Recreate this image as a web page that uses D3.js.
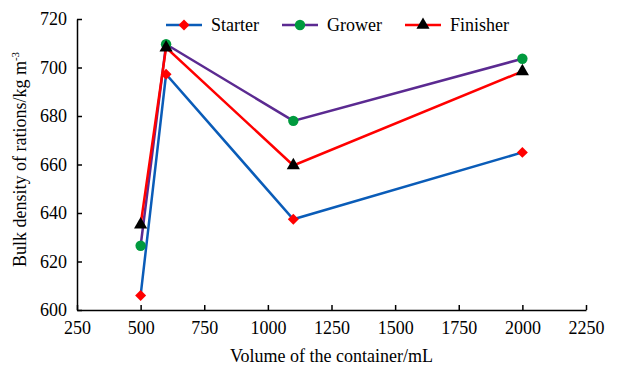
<!DOCTYPE html>
<html>
<head>
<meta charset="utf-8">
<script src="https://cdn.jsdelivr.net/npm/d3@7"></script>
<style>
  body { margin: 0; background: #fff; }
</style>
</head>
<body>
<svg id="chart" width="624" height="370"></svg>
<script>
const volumes = [500, 600, 1100, 2000];
const starter = [606, 697.2, 637.4, 665];
const grower = [626.5, 709.6, 678, 703.6];
const finisher = [635.2, 708.2, 659.6, 698.4];
const xTicks = [250, 500, 750, 1000, 1250, 1500, 1750, 2000, 2250];
const yTicks = [600, 620, 640, 660, 680, 700, 720];

const series = [
  {name: "Starter", values: starter, line: "#0a5cb8", fill: "#ff0000", shape: "diamond"},
  {name: "Grower", values: grower, line: "#5b2a91", fill: "#009a3e", shape: "circle"},
  {name: "Finisher", values: finisher, line: "#ff0000", fill: "#000000", shape: "triangle"}
];

const FONT = "Liberation Serif";
const margin = {left: 77, right: 38, top: 19, bottom: 60};
const W = 624, H = 370;

const svg = d3.select("#chart");
const x = d3.scaleLinear().domain([250, 2250]).range([margin.left, W - margin.right]);
const y = d3.scaleLinear().domain([600, 720]).range([H - margin.bottom, margin.top]);

// axes, ticks point inward
const xAxis = svg.append("g")
  .attr("transform", `translate(0,${y(600)})`)
  .call(d3.axisBottom(x).tickValues(xTicks).tickFormat(d3.format("d"))
    .tickSizeInner(-5).tickSizeOuter(0).tickPadding(11));
const yAxis = svg.append("g")
  .attr("transform", `translate(${x(250)},0)`)
  .call(d3.axisLeft(y).tickValues(yTicks).tickFormat(d3.format("d"))
    .tickSizeInner(-5).tickSizeOuter(0).tickPadding(10));

[xAxis, yAxis].forEach(g => {
  g.select(".domain").attr("stroke", "#000").attr("stroke-width", 1.5);
  g.selectAll(".tick line").attr("stroke", "#000").attr("stroke-width", 1.5);
  g.selectAll(".tick text").attr("fill", "#000")
    .style("font-family", FONT).style("font-size", "18px");
});

const line = d3.line().x((d, i) => x(volumes[i])).y(d => y(d));

const symbolFor = (shape) => {
  switch (shape) {
    case "diamond":
      return d3.symbol().type(d3.symbolSquare).size(60)();
    case "circle":
      return d3.symbol().type(d3.symbolCircle).size(85)();
    default:
      return d3.symbol().type(d3.symbolTriangle).size(75)();
  }
};

series.forEach(s => {
  svg.append("path").datum(s.values)
    .attr("d", line).attr("fill", "none")
    .attr("stroke", s.line).attr("stroke-width", 2.5);
});

series.forEach(s => {
  svg.selectAll(null).data(s.values).enter().append("path")
    .attr("d", symbolFor(s.shape))
    .attr("transform", (d, i) => `translate(${x(volumes[i])},${y(d)})` + (s.shape === "diamond" ? " rotate(45)" : ""))
    .attr("fill", s.fill);
});

// legend
const legendX = [166, 282, 405];
series.forEach((s, i) => {
  const g = svg.append("g").attr("transform", `translate(${legendX[i]},25)`);
  g.append("line").attr("x1", 0).attr("x2", 36).attr("y1", 0).attr("y2", 0)
    .attr("stroke", s.line).attr("stroke-width", 2.5);
  g.append("path").attr("d", symbolFor(s.shape))
    .attr("transform", "translate(18,0)" + (s.shape === "diamond" ? " rotate(45)" : ""))
    .attr("fill", s.fill);
  g.append("text").attr("x", 45).attr("y", 6)
    .style("font-family", FONT).style("font-size", "18px").text(s.name);
});

// axis titles
svg.append("text")
  .attr("x", (x(250) + x(2250)) / 2).attr("y", 362)
  .attr("text-anchor", "middle")
  .style("font-family", FONT).style("font-size", "18px")
  .text("Volume of the container/mL");

const yt = svg.append("text")
  .attr("transform", `translate(26,${(y(600) + y(720)) / 2 - 5}) rotate(-90)`)
  .attr("text-anchor", "middle")
  .style("font-family", FONT).style("font-size", "18px");
yt.append("tspan").text("Bulk density of rations/kg m");
yt.append("tspan").attr("dy", -7).style("font-size", "11px").text("-3");
</script>
</body>
</html>
